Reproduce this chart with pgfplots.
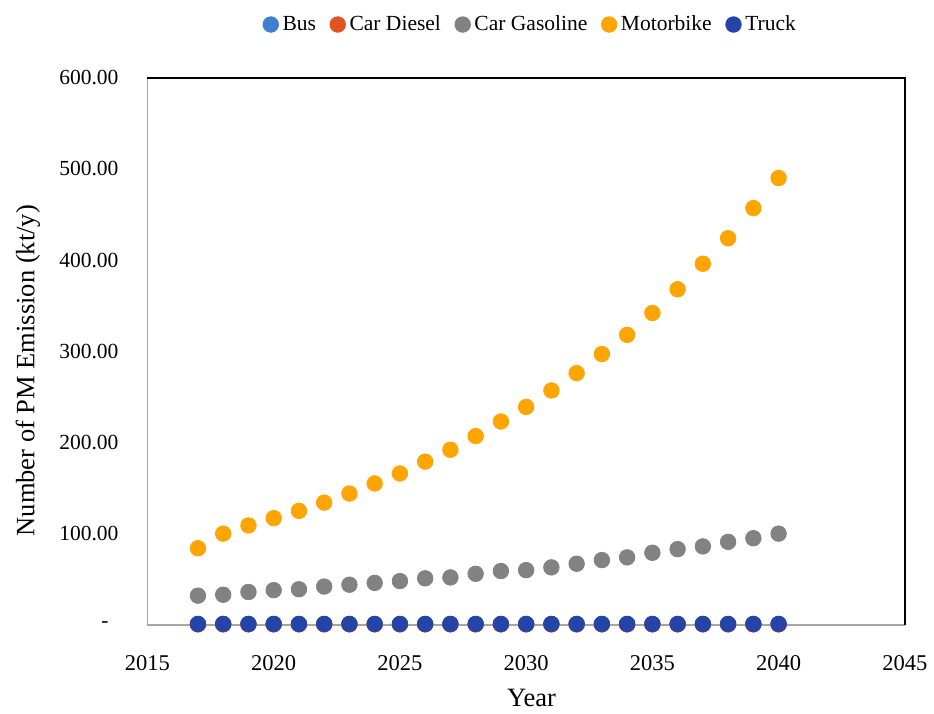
\documentclass[border=0pt]{standalone}
\usepackage{fontspec}
\setmainfont{Liberation Serif}
\usepackage{pgfplots}
\pgfplotsset{compat=1.18}
\definecolor{cBus}{HTML}{3E7FD2}
\definecolor{cDiesel}{HTML}{E2531D}
\definecolor{cGas}{HTML}{828282}
\definecolor{cMoto}{HTML}{FFA502}
\definecolor{cTruck}{HTML}{2544A8}
\begin{document}
\begin{tikzpicture}
\begin{axis}[
  scale only axis,
  width=380pt, height=274.5pt,
  xmin=2015, xmax=2045, ymin=0, ymax=600,
  xtick={2015,2020,...,2045},
  xticklabels={2015,2020,2025,2030,2035,2040,2045},
  ytick={0,100,...,600},
  yticklabels={{-\rule{5pt}{0pt}},100.00,200.00,300.00,400.00,500.00,600.00},
  major tick length=0pt,
  tick label style={font=\fontsize{10.8}{12}\selectfont},
  xticklabel style={yshift=-12pt, font=\fontsize{11.3}{12}\selectfont},
  yticklabel style={xshift=-11pt},
  axis x line*=bottom, axis y line*=left,
  axis line style={draw=gray!70, line width=0.8pt},
  xlabel={Year}, ylabel={Number of PM Emission (kt/y)},
  label style={font=\fontsize{13.3}{15}\selectfont},
  xlabel style={at={(axis description cs:0.507,-0.133)}, anchor=center},
  ylabel style={at={(axis description cs:-0.158,0.4645)}, anchor=center},
  clip=false,
  legend columns=5,
  legend style={at={(axis description cs:0.507,1)}, anchor=south, yshift=20pt, draw=none, font=\fontsize{10.8}{12}\selectfont,
    /tikz/every even column/.append style={column sep=5pt}, inner sep=0pt},
  legend cell align=left,
]
\addplot[only marks, mark=*, mark size=3.9pt, color=cBus] coordinates {
(2017,0.8)(2018,0.8)(2019,0.8)(2020,0.8)(2021,0.8)(2022,0.8)(2023,0.8)(2024,0.8)(2025,0.8)(2026,0.8)(2027,0.8)(2028,0.8)
(2029,0.8)(2030,0.8)(2031,0.8)(2032,0.8)(2033,0.8)(2034,0.8)(2035,0.8)(2036,0.8)(2037,0.8)(2038,0.8)(2039,0.8)(2040,0.8)};
\addlegendentry{Bus}
\addplot[only marks, mark=*, mark size=3.9pt, color=cDiesel] coordinates {
(2017,0.5)(2018,0.5)(2019,0.5)(2020,0.5)(2021,0.5)(2022,0.5)(2023,0.5)(2024,0.5)(2025,0.5)(2026,0.5)(2027,0.5)(2028,0.5)
(2029,0.5)(2030,0.5)(2031,0.5)(2032,0.5)(2033,0.5)(2034,0.5)(2035,0.5)(2036,0.5)(2037,0.5)(2038,0.5)(2039,0.5)(2040,0.5)};
\addlegendentry{Car Diesel}
\addplot[only marks, mark=*, mark size=3.9pt, color=cGas] coordinates {
(2017,32)(2018,33)(2019,36)(2020,38)(2021,39)(2022,42)(2023,44)(2024,46)(2025,48)(2026,51)(2027,52)(2028,56)
(2029,59)(2030,60)(2031,63)(2032,67)(2033,71)(2034,74)(2035,79)(2036,83)(2037,86)(2038,91)(2039,95)(2040,100)};
\addlegendentry{Car Gasoline}
\addplot[only marks, mark=*, mark size=3.9pt, color=cMoto] coordinates {
(2017,84)(2018,100)(2019,109)(2020,117)(2021,125)(2022,134)(2023,144)(2024,155)(2025,166)(2026,179)(2027,192)(2028,207)
(2029,223)(2030,239)(2031,257)(2032,276)(2033,297)(2034,318)(2035,342)(2036,368)(2037,396)(2038,424)(2039,457)(2040,490)};
\addlegendentry{Motorbike}
\addplot[only marks, mark=*, mark size=3.9pt, color=cTruck] coordinates {
(2017,1)(2018,1)(2019,1)(2020,1)(2021,1)(2022,1)(2023,1)(2024,1)(2025,1)(2026,1)(2027,1)(2028,1)
(2029,1)(2030,1)(2031,1)(2032,1)(2033,1)(2034,1)(2035,1)(2036,1)(2037,1)(2038,1)(2039,1)(2040,1)};
\addlegendentry{Truck}
\draw[black, line width=1.1pt] (rel axis cs:0,1) -- (rel axis cs:1,1) -- (rel axis cs:1,0);
\path (axis description cs:-0.1947,1.1421) -- (axis description cs:1.0342,-0.1603);
\end{axis}
\end{tikzpicture}
\end{document}
